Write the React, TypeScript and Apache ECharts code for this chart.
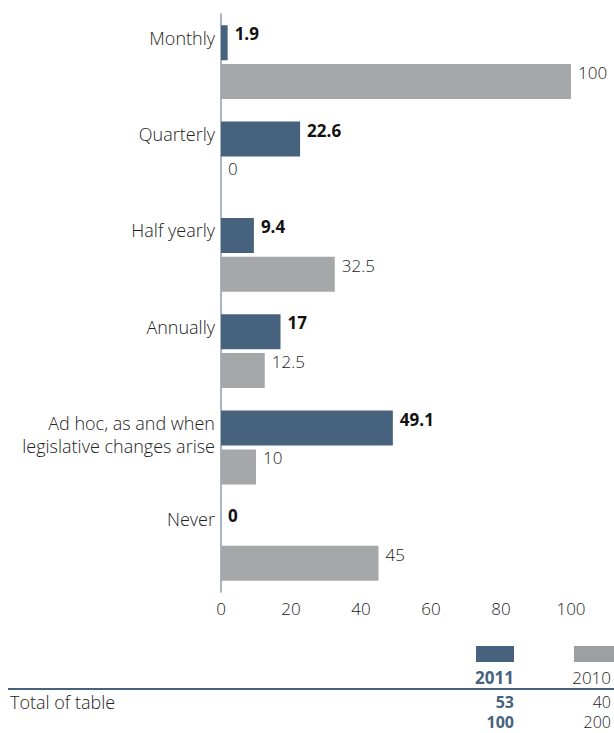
import React, { useEffect, useRef } from "react";
import * as echarts from "echarts";

const categories = [
  "Monthly",
  "Quarterly",
  "Half yearly",
  "Annually",
  "Ad hoc, as and when\nlegislative changes arise",
  "Never",
];
const values2011 = [1.9, 22.6, 9.4, 17, 49.1, 0];
const values2010 = [100, 0, 32.5, 12.5, 10, 45];
const seriesNames = ["2011", "2010"];
const totalLabel = "Total of table";
const totals2011 = [53, 100];
const totals2010 = [40, 200];
const xTicks = { min: 0, max: 100, interval: 20 };

const BLUE = "#46627d";
const GRAY = "#a6a7a9";
const FONT = "Open Sans";

export default function App() {
  const ref = useRef<HTMLDivElement>(null);
  useEffect(() => {
    if (!ref.current) return;
    const chart = echarts.init(ref.current, null, { renderer: "svg" });
    const labelBase = {
      show: true,
      position: "right" as const,
      distance: 7,
      offset: [0, -9],
      fontFamily: FONT,
      fontSize: 17,
    };
    const tableText = (text: string, x: number, y: number, bold: boolean, fill: string, size: number, align: string) => ({
      type: "text",
      x,
      y,
      style: {
        text,
        fill,
        font: `${bold ? "bold" : "300"} ${size}px "${FONT}"`,
        lineHeight: 18,
        align,
        verticalAlign: "middle",
      },
    });
    chart.setOption({
      animation: false,
      textStyle: { fontFamily: FONT },
      grid: { left: 221, right: 43, top: 14, bottom: 141, containLabel: false },
      xAxis: {
        type: "value",
        min: xTicks.min,
        max: xTicks.max,
        interval: xTicks.interval,
        axisLine: { show: false },
        axisTick: { show: false },
        splitLine: { show: false },
        axisLabel: { fontFamily: FONT, fontSize: 17, fontWeight: 300, color: "#222", margin: 8 },
      },
      yAxis: {
        type: "category",
        inverse: true,
        data: categories,
        axisLine: { show: true, lineStyle: { color: "#8c9db0", width: 1.5 } },
        axisTick: { show: false },
        axisLabel: {
          fontFamily: FONT,
          fontSize: 18,
          fontWeight: 300,
          color: "#222",
          margin: 6,
          lineHeight: 23,
          align: "right",
          verticalAlign: "top",
          padding: [-36, 0, 0, 0],
        },
      },
      series: [
        {
          name: seriesNames[0],
          type: "bar",
          data: values2011,
          barWidth: 35,
          barGap: "11%",
          itemStyle: { color: BLUE },
          label: { ...labelBase, fontWeight: "bold", color: "#111" },
        },
        {
          name: seriesNames[1],
          type: "bar",
          data: values2010,
          barWidth: 35,
          barGap: "11%",
          itemStyle: { color: GRAY },
          label: { ...labelBase, fontWeight: 300, color: "#222" },
        },
      ],
      graphic: [
        { type: "rect", shape: { x: 476, y: 646, width: 38, height: 16 }, style: { fill: BLUE } },
        { type: "rect", shape: { x: 574, y: 646, width: 40, height: 16 }, style: { fill: "#9e9fa1" } },
        tableText(seriesNames[0], 514, 677, true, BLUE, 17, "right"),
        tableText(seriesNames[1], 611, 677, false, "#222", 17, "right"),
        { type: "rect", shape: { x: 8, y: 688, width: 606, height: 2 }, style: { fill: BLUE } },
        tableText(totalLabel, 10, 702, false, "#222", 18, "left"),
        ...totals2011.map((v, i) => tableText(String(v), 514, 702 + i * 20, true, BLUE, 16, "right")),
        ...totals2010.map((v, i) => tableText(String(v), 611, 702 + i * 20, false, "#222", 16, "right")),
      ],
    });
    return () => chart.dispose();
  }, []);
  return (
    <div
      ref={ref}
      style={{ position: "absolute", left: 0, top: 0, width: 614, height: 733 }}
    />
  );
}
